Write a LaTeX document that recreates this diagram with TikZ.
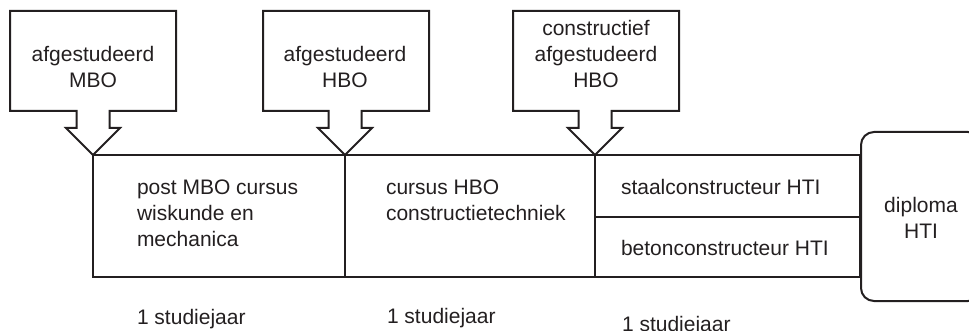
\documentclass[tikz,border=0pt]{standalone}
\usepackage{fontspec}
\setmainfont{Liberation Sans}
\usetikzlibrary{calc}
\definecolor{ink}{HTML}{231F20}
\begin{document}
\begin{tikzpicture}[x=1pt,y=-1pt,
  every node/.style={inner sep=0pt, outer sep=0pt, text=ink,
    font=\fontsize{21}{26}\selectfont},
  line/.style={draw=ink, line width=2pt, line join=miter},
  sect/.style={line, rectangle, minimum width=#1},
  lbl/.style={anchor=base west, align=left},
  clbox/.style={minimum width=166pt, minimum height=100pt},
  cltext/.style={anchor=base, align=center}]
\useasboundingbox (0,0) rectangle (969,331);
% sections
\node[sect=252pt, minimum height=122pt] (s1) at (219,216) {};
\node[sect=250pt, minimum height=122pt] (s2) at (470,216) {};
\node[sect=265pt, minimum height=62pt] (s3a) at (727.5,186) {};
\node[sect=265pt, minimum height=60pt] (s3b) at (727.5,247) {};
\node[line, rectangle, rounded corners=13pt, minimum width=120pt, minimum height=169pt] (dip) at (921,216.5) {};
% tips
\coordinate (t1) at (s1.north west);
\coordinate (t2) at (s1.north east);
\coordinate (t3) at (s2.north east);
% callout boxes
\node[clbox] (c1) at ($(t1)+(0,-94)$) {};
\node[clbox] (c2) at ($(t2)+(1,-94)$) {};
\node[clbox] (c3) at ($(t3)+(1,-94)$) {};
\foreach \c/\t in {c1/t1,c2/t2,c3/t3}{
  \draw[line] (\c.north west) -- (\c.north east) -- (\c.south east)
    -- ($(\t |- \c.south)+(16.5,0)$) -- ($(\t)+(16.5,-27)$) -- ($(\t)+(27,-27)$)
    -- (\t) -- ($(\t)+(-27,-27)$) -- ($(\t)+(-16.5,-27)$)
    -- ($(\t |- \c.south)+(-16.5,0)$) -- (\c.south west) -- cycle;
}
% callout texts (base = last line)
\node[cltext] (c1t) at (93,88) {afgestudeerd\\MBO};
\node[cltext] (c2t) at (345,88) {afgestudeerd\\HBO};
\node[cltext] (c3t) at (596,88) {constructief\\afgestudeerd\\HBO};
% section texts
\node[lbl] (s1t) at (137,247) {post MBO cursus\\wiskunde en\\mechanica};
\node[lbl] (s2t) at (386,221) {cursus HBO\\constructietechniek};
\node[lbl] (s3at) at (621,195) {staalconstructeur HTI};
\node[lbl] (s3bt) at (621,255) {betonconstructeur HTI};
\node[cltext] (dipt) at (921,239) {diploma\\HTI};
% durations
\node[lbl] (y1) at (137,324) {1 studiejaar};
\node[lbl] (y2) at (387,323) {1 studiejaar};
\node[lbl] (y3) at (622,331) {1 studiejaar};
\end{tikzpicture}
\end{document}
